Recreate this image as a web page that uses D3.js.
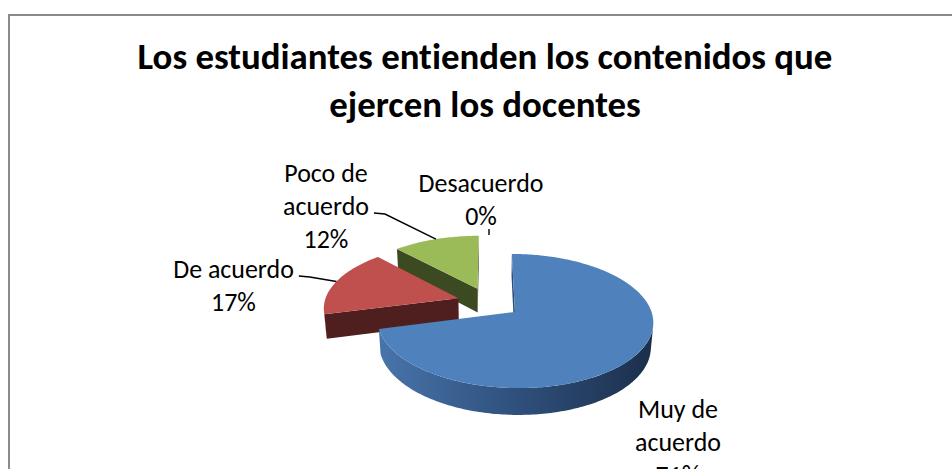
<!DOCTYPE html>
<meta charset="utf-8">
<style>
body { margin: 0; background: #fff; }
svg { display: block; }
text { font-variant-ligatures: none; }
.title { font-family: Calibri, Carlito, Lato, sans-serif; font-weight: bold; fill: #000; }
.lbl { font-family: Calibri, Carlito, Lato, sans-serif; fill: #000; }
.leader { fill: none; stroke: #000; stroke-width: 1.4px; }
</style>
<body>
<div id="pie3d"></div>
<script src="https://d3js.org/d3.v7.min.js"></script>
<script>
// data
var categories = ["Muy de acuerdo", "De acuerdo", "Poco de acuerdo", "Desacuerdo"];
var values = [71, 17, 12, 0];
var labelNames = [["Muy de", "acuerdo"], ["De acuerdo"], ["Poco de", "acuerdo"], ["Desacuerdo"]];
var titleLines = ["Los estudiantes entienden los contenidos que", "ejercen los docentes"];

var topColors = ["#4F81BD", "#C0504D", "#9BBB59", "#8064A2"];
var sideColors = ["#2B4A74", "#4E1F1E", "#3C4A22", "#3F3151"];

// layout
var W = 952, H = 469;
var cx = 489, cy = 302.5, R = 134;
var tilt = 28.2 * Math.PI / 180, dist = 6.69, thick = 0.207, explode = 0.24;
// label anchor = centre x, first baseline
var labelPos = [[678, 418], [233.5, 278], [326, 182], [481, 192]];
var lineGap = 33;

var svg = d3.select("#pie3d").append("svg")
    .attr("width", W)
    .attr("height", H);

svg.append("rect")
    .attr("x", 9).attr("y", 15)
    .attr("width", W + 20).attr("height", H + 20)
    .attr("fill", "#fff")
    .attr("stroke", "#8a8a8a")
    .attr("stroke-width", 2);

var defs = svg.append("defs");
var grad = defs.append("linearGradient")
    .attr("id", "blueSide")
    .attr("gradientUnits", "userSpaceOnUse")
    .attr("x1", 380).attr("x2", 652).attr("y1", 0).attr("y2", 0);
grad.append("stop").attr("offset", 0).attr("stop-color", "#4874AA");
grad.append("stop").attr("offset", 0.5).attr("stop-color", "#2F507C");
grad.append("stop").attr("offset", 1).attr("stop-color", "#1C2F4B");

// perspective projection: x right, y to the back, z up (unit radius)
function project(x, y, z) {
    var depth = dist + y * Math.cos(tilt) - z * Math.sin(tilt);
    var k = R * dist / depth;
    return [cx + k * x, cy - k * (y * Math.sin(tilt) + z * Math.cos(tilt))];
}

var pie = d3.pie().sort(null).value(function(d) { return d; });
var arcs = pie(values);
arcs.forEach(function(a, i) {
    var mid = (a.startAngle + a.endAngle) / 2;
    a.i = i;
    a.ox = explode * Math.sin(mid);
    a.oy = explode * Math.cos(mid);
});

function pt(a, t, z) { return project(a.ox + Math.sin(t), a.oy + Math.cos(t), z); }
function ctr(a, z) { return project(a.ox, a.oy, z); }
function arcPts(a, t0, t1, z) {
    var n = Math.max(2, Math.ceil((t1 - t0) / (Math.PI / 180)));
    return d3.range(n + 1).map(function(j) { return pt(a, t0 + (t1 - t0) * j / n, z); });
}
var line = d3.line();
var zb = -thick;

function sideFacing(a, t) {
    return -a.ox * Math.sin(t) - a.oy * Math.cos(t) - 1 - dist * Math.cos(tilt) * Math.cos(t);
}
function sideRuns(a) {
    var runs = [], cur = null;
    var n = Math.ceil((a.endAngle - a.startAngle) / 0.004);
    for (var j = 0; j <= n; j++) {
        var t = a.startAngle + (a.endAngle - a.startAngle) * j / n;
        if (sideFacing(a, t) > 0) {
            if (!cur) { cur = [t, t]; runs.push(cur); }
            cur[1] = t;
        } else cur = null;
    }
    return runs;
}

var drawn = arcs.filter(function(a) { return a.value > 0; })
    .sort(function(p, q) { return q.oy - p.oy; });

var slices = svg.append("g").attr("class", "slices");
drawn.forEach(function(a) {
    var g = slices.append("g").attr("class", "slice");
    var side = a.i === 0 ? "url(#blueSide)" : sideColors[a.i];
    var a0 = a.startAngle, a1 = a.endAngle;
    var cc = Math.cos(tilt) * dist;
    // radial faces
    if (a.ox * Math.cos(a0) - (cc + a.oy) * Math.sin(a0) > 0) {
        g.append("path")
            .attr("d", line([ctr(a, 0), pt(a, a0, 0), pt(a, a0, zb), ctr(a, zb)]) + "Z")
            .attr("fill", sideColors[a.i]);
    }
    if (-a.ox * Math.cos(a1) + (cc + a.oy) * Math.sin(a1) > 0) {
        g.append("path")
            .attr("d", line([ctr(a, 0), pt(a, a1, 0), pt(a, a1, zb), ctr(a, zb)]) + "Z")
            .attr("fill", sideColors[a.i]);
    }
    // outer curved side
    sideRuns(a).forEach(function(r) {
        var pts = arcPts(a, r[0], r[1], 0).concat(arcPts(a, r[0], r[1], zb).reverse());
        g.append("path").attr("d", line(pts) + "Z").attr("fill", side);
    });
    // top
    g.append("path")
        .attr("d", line([ctr(a, 0)].concat(arcPts(a, a0, a1, 0))) + "Z")
        .attr("fill", topColors[a.i]);
});

// title, fitted to the original width
var probe = svg.append("text").attr("class", "title").style("font-size", "100px").text(titleLines[0]);
var titleSize = 100 * 695 / probe.node().getComputedTextLength();
probe.remove();
svg.append("text")
    .attr("class", "title")
    .attr("text-anchor", "middle")
    .style("font-size", titleSize + "px")
    .selectAll("tspan")
    .data(titleLines)
    .enter().append("tspan")
    .attr("x", 485)
    .attr("y", function(d, i) { return 69 + i * 48; })
    .text(function(d) { return d; });

// labels
probe = svg.append("text").attr("class", "lbl").style("font-size", "100px").text("Desacuerdo");
var lblSize = 100 * 125 / probe.node().getComputedTextLength();
probe.remove();

var pct = d3.format(".0%");
var total = d3.sum(values);
var labels = svg.append("g").attr("class", "labels");
arcs.forEach(function(a) {
    var lines = labelNames[a.i].concat([pct(a.value / total)]);
    var p = labelPos[a.i];
    var t = labels.append("text")
        .attr("class", "lbl")
        .attr("text-anchor", "middle")
        .style("font-size", lblSize + "px");
    var spans = t.selectAll("tspan")
        .data(lines)
        .enter().append("tspan")
        .attr("x", p[0])
        .attr("y", function(d, j) { return p[1] + j * lineGap; })
        .text(function(d) { return d; });

    var mid = (a.startAngle + a.endAngle) / 2;
    var anchor = pt(a, mid, 0);
    if (a.i === 0) return;
    if (a.value === 0) {
        var yb = p[1] + (lines.length - 1) * lineGap + 4;
        labels.append("path").attr("class", "leader")
            .attr("d", line([[anchor[0], yb], anchor]));
        return;
    }
    // leader from the label line nearest the slice
    var li = lines.length === 3 ? 1 : 0;
    var w = spans.nodes()[li].getComputedTextLength();
    var y0 = p[1] + li * lineGap - 2;
    var x0 = p[0] + w / 2 + 5;
    labels.append("path").attr("class", "leader")
        .attr("d", line([[x0, y0], [x0 + 11, y0 + 1], anchor]));
});
</script>
